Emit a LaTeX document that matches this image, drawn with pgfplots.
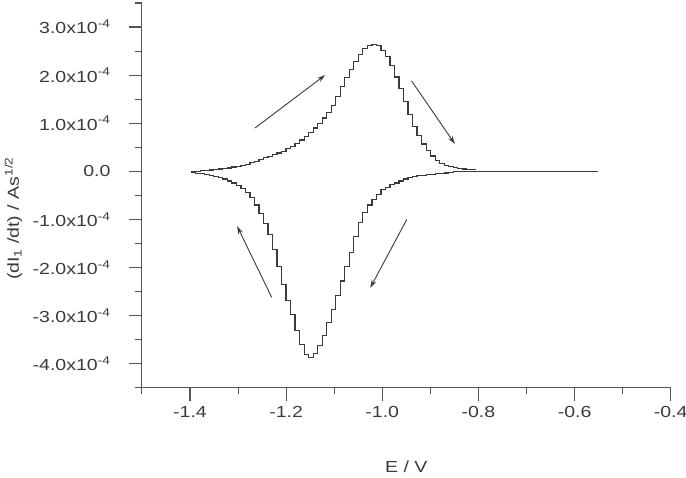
\documentclass[border=0pt]{standalone}
\usepackage{pgfplots}
\pgfplotsset{compat=1.18}
\usepackage{pgfplotstable}
\usetikzlibrary{arrows.meta}
\usepackage{fontspec}
\setmainfont[FakeStretch=1.22]{Liberation Sans}
\definecolor{txt}{HTML}{3A3A3A}
\definecolor{axc}{HTML}{555555}
\definecolor{crv}{HTML}{3A3A3A}
% E (V), I (1e-4 A s^1/2), in sweep order
\pgfplotstableread{
E I
-0.5518 -0.01
-0.8431 -0.01
-0.8525 -0.03
-0.8619 -0.035
-0.8713 -0.04
-0.8807 -0.05
-0.8901 -0.06
-0.8995 -0.07
-0.9088 -0.08
-0.9182 -0.09
-0.9276 -0.11
-0.9370 -0.13
-0.9464 -0.16
-0.9558 -0.20
-0.9652 -0.24
-0.9746 -0.28
-0.9840 -0.33
-0.9934 -0.38
-1.0028 -0.48
-1.0122 -0.58
-1.0216 -0.70
-1.0310 -0.86
-1.0404 -1.06
-1.0498 -1.36
-1.0592 -1.68
-1.0686 -1.97
-1.0780 -2.28
-1.0874 -2.58
-1.0968 -2.88
-1.1062 -3.15
-1.1156 -3.42
-1.1250 -3.62
-1.1344 -3.78
-1.1438 -3.87
-1.1532 -3.80
-1.1626 -3.60
-1.1720 -3.30
-1.1814 -2.98
-1.1908 -2.68
-1.2002 -2.35
-1.2096 -1.98
-1.2190 -1.62
-1.2284 -1.32
-1.2377 -1.08
-1.2471 -0.88
-1.2565 -0.70
-1.2659 -0.55
-1.2753 -0.44
-1.2847 -0.35
-1.2941 -0.29
-1.3035 -0.24
-1.3129 -0.20
-1.3223 -0.16
-1.3317 -0.13
-1.3411 -0.10
-1.3505 -0.08
-1.3599 -0.06
-1.3693 -0.05
-1.3787 -0.04
-1.3881 -0.03
-1.3975 -0.03
-1.3975 -0.01
-1.3881 0.00
-1.3787 0.01
-1.3693 0.02
-1.3599 0.03
-1.3505 0.04
-1.3411 0.05
-1.3317 0.06
-1.3223 0.07
-1.3129 0.09
-1.3035 0.10
-1.2941 0.12
-1.2847 0.15
-1.2753 0.18
-1.2659 0.21
-1.2565 0.24
-1.2471 0.28
-1.2377 0.31
-1.2284 0.35
-1.2190 0.38
-1.2096 0.42
-1.2002 0.47
-1.1908 0.52
-1.1814 0.58
-1.1720 0.65
-1.1626 0.72
-1.1532 0.80
-1.1438 0.90
-1.1344 1.00
-1.1250 1.11
-1.1156 1.23
-1.1062 1.37
-1.0968 1.55
-1.0874 1.76
-1.0780 1.95
-1.0686 2.12
-1.0592 2.28
-1.0498 2.43
-1.0404 2.56
-1.0310 2.62
-1.0216 2.64
-1.0122 2.61
-1.0028 2.52
-0.9934 2.38
-0.9840 2.20
-0.9746 1.96
-0.9652 1.72
-0.9558 1.45
-0.9464 1.18
-0.9370 0.93
-0.9276 0.74
-0.9182 0.57
-0.9088 0.43
-0.8995 0.32
-0.8901 0.23
-0.8807 0.17
-0.8713 0.13
-0.8619 0.10
-0.8525 0.08
-0.8431 0.06
-0.8337 0.05
-0.8243 0.04
-0.8149 0.04
-0.8055 0.04
}\cvdata
\begin{document}
\begin{tikzpicture}
\begin{axis}[
  scale only axis,
  width=529pt, height=385pt,
  xmin=-1.5, xmax=-0.4,
  ymin=-4.5, ymax=3.5,
  axis x line*=bottom,
  axis y line*=left,
  axis line style={color=axc, line width=1.1pt},
  every tick/.style={color=axc, line width=1.1pt},
  tick align=outside,
  major tick length=13pt,
  minor tick length=6.5pt,
  xtick={-1.4,-1.2,-1.0,-0.8,-0.6,-0.4},
  xticklabels={-1.4,-1.2,-1.0,-0.8,-0.6,-0.4},
  minor xtick={-1.5,-1.3,-1.1,-0.9,-0.7,-0.5},
  ytick={-4,-3,-2,-1,0,1,2,3},
  yticklabels={-4.0x10\textsuperscript{-4},-3.0x10\textsuperscript{-4},-2.0x10\textsuperscript{-4},-1.0x10\textsuperscript{-4},0.0,1.0x10\textsuperscript{-4},2.0x10\textsuperscript{-4},3.0x10\textsuperscript{-4}},
  minor ytick={-4.5,-3.5,-2.5,-1.5,-0.5,0.5,1.5,2.5,3.5},
  tick label style={font=\fontsize{16}{19}\selectfont, color=txt},
  xticklabel style={yshift=-2pt},
  yticklabel style={xshift=-15pt},
  xlabel={E / V},
  ylabel={(dI\textsubscript{1} /dt) / As\textsuperscript{1/2}},
  label style={font=\fontsize{16}{19}\selectfont, color=txt},
  xlabel style={at={(axis description cs:0.5,-0.205)}, anchor=center},
  ylabel style={at={(axis description cs:-0.243,0.44)}, anchor=center, rotate=0},
  clip=false,
]
\addplot[const plot, color=crv, line width=1.2pt] table[x=E, y=I] {\cvdata};
\draw[color=crv, line width=0.9pt, -{Stealth[length=8pt,width=5pt]}] (axis cs:-1.265,0.90) -- (axis cs:-1.119,2.00);
\draw[color=crv, line width=0.9pt, -{Stealth[length=8pt,width=5pt]}] (axis cs:-0.939,1.88) -- (axis cs:-0.849,0.57);
\draw[color=crv, line width=0.9pt, -{Stealth[length=8pt,width=5pt]}] (axis cs:-0.949,-1.00) -- (axis cs:-1.025,-2.42);
\draw[color=crv, line width=0.9pt, -{Stealth[length=8pt,width=5pt]}] (axis cs:-1.230,-2.62) -- (axis cs:-1.302,-1.14);
\end{axis}
\pgfresetboundingbox
\path[use as bounding box] ([shift={(-142pt,-90pt)}]current axis.south west) rectangle ([shift={(15.3pt,3pt)}]current axis.north east);
\end{tikzpicture}
\end{document}
